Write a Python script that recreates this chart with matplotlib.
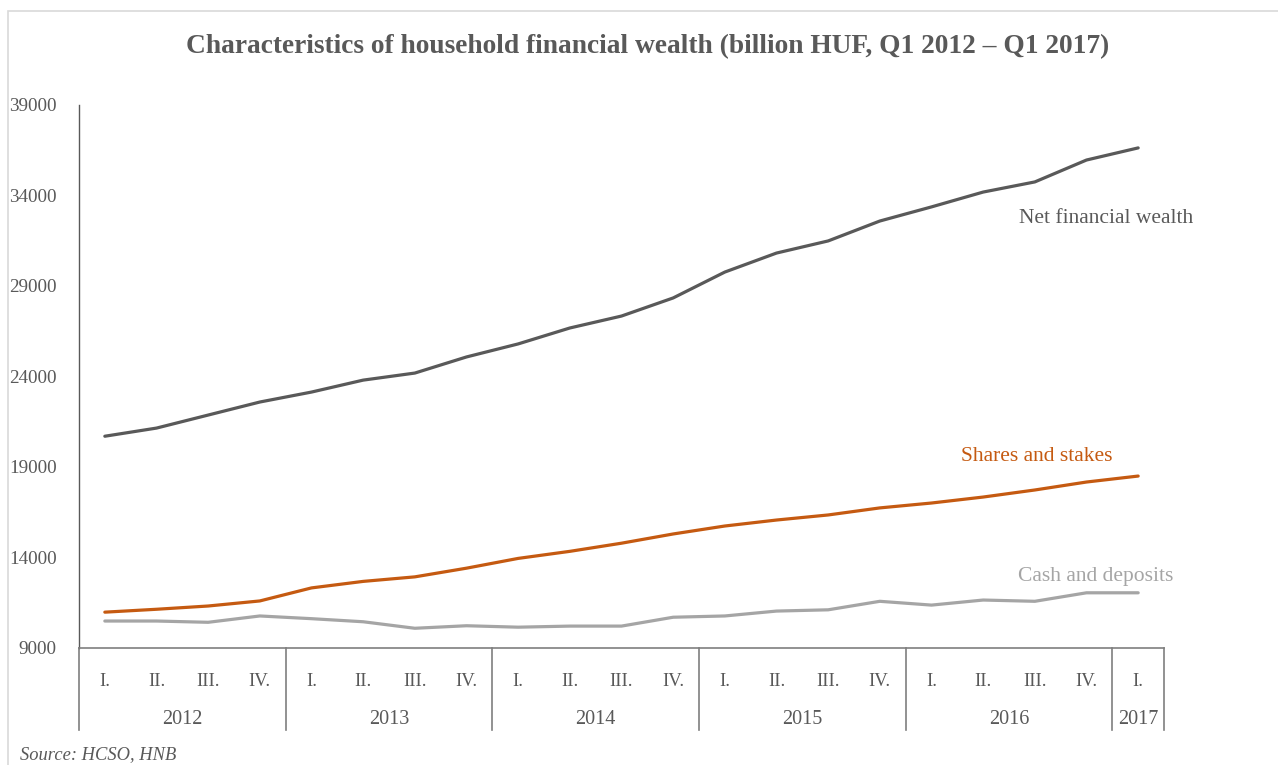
import matplotlib.pyplot as plt
import matplotlib.transforms as mtransforms
from matplotlib.patches import Rectangle

# Quarterly household financial wealth, billion HUF
years = ["2012", "2013", "2014", "2015", "2016", "2017"]
quarters_per_year = [4, 4, 4, 4, 4, 1]
quarter_names = ["I.", "II.", "III.", "IV."]

net_wealth = [20700, 21150, 21870, 22590, 23140, 23800, 24190, 25080, 25800, 26680,
              27340, 28340, 29770, 30820, 31490, 32590, 33370, 34190, 34750, 35960, 36630]
shares = [10980, 11140, 11320, 11600, 12320, 12680, 12930, 13410, 13950, 14340,
          14790, 15300, 15740, 16070, 16350, 16740, 17010, 17340, 17730, 18170, 18500]
cash = [10490, 10490, 10420, 10770, 10620, 10450, 10090, 10230, 10150, 10210,
        10210, 10700, 10770, 11040, 11110, 11580, 11370, 11650, 11580, 12050, 12050]

DARK = "#595959"
ORANGE = "#C55A11"
LIGHT = "#A5A5A5"

plt.rcParams['font.family'] = ['Liberation Serif', 'DejaVu Serif']

W, H = 1278, 765
fig = plt.figure(figsize=(W / 100, H / 100), dpi=100, facecolor="white")

# outer chart frame (only left and top edges are in view)
fig.patches.append(Rectangle((8 / W, -0.1), 1.2, 1.1 - 11 / H, transform=fig.transFigure,
                             fill=False, edgecolor="#D9D9D9", linewidth=1.2))

left, right, top, bottom = 79, 1164, 105, 648
ax = fig.add_axes([left / W, 1 - bottom / H, (right - left) / W, (bottom - top) / H])

x = list(range(len(net_wealth)))
ax.plot(x, net_wealth, color=DARK, lw=2.3, solid_capstyle="round")
ax.plot(x, shares, color=ORANGE, lw=2.3, solid_capstyle="round")
ax.plot(x, cash, color=LIGHT, lw=2.3, solid_capstyle="round")

ax.set_xlim(-0.5, len(x) - 0.5)
ax.set_ylim(9000, 39000)
ax.set_yticks(range(9000, 39001, 5000))
ax.tick_params(axis="y", length=0, pad=16, labelsize=13.8, labelcolor=DARK)
ax.set_xticks([])

for s in ["top", "right"]:
    ax.spines[s].set_visible(False)
ax.spines["left"].set_color(DARK)
ax.spines["bottom"].set_color("#7F7F7F")
ax.spines["left"].set_linewidth(1.0)
ax.spines["bottom"].set_linewidth(1.2)

# two-level category axis: quarters over years, with group dividers
trans = mtransforms.blended_transform_factory(ax.transData, ax.transAxes)
span = bottom - top
div_bottom = -(730 - bottom) / span
q_y = -(681 - bottom) / span
yr_y = -(719 - bottom) / span

pos = 0
edges = [-0.5]
for yr, n in zip(years, quarters_per_year):
    for q in range(n):
        ax.text(pos + q, q_y, quarter_names[q], transform=trans, ha="center", va="center",
                fontsize=13.5, color=DARK)
    ax.text(pos + (n - 1) / 2, yr_y, yr, transform=trans, ha="center", va="center",
            fontsize=14.5, color=DARK)
    pos += n
    edges.append(pos - 0.5)

for e in edges:
    ax.plot([e, e], [0, div_bottom], transform=trans, color="#7F7F7F", lw=1.2, clip_on=False)

# series labels
ax.text(19.38, 32750, "Net financial wealth", ha="center", va="center", fontsize=15.5, color=DARK)
ax.text(18.04, 19600, "Shares and stakes", ha="center", va="center", fontsize=15.5, color=ORANGE)
ax.text(19.17, 12950, "Cash and deposits", ha="center", va="center", fontsize=15.5, color=LIGHT)

fig.text(648 / W, 1 - 44 / H,
         "Characteristics of household financial wealth (billion HUF, Q1 2012 \u2013 Q1 2017)",
         ha="center", va="center_baseline", fontsize=19.7, fontweight="bold", color=DARK)
fig.text(20 / W, 1 - 755 / H, "Source: HCSO, HNB", ha="left", va="center",
         fontsize=13.3, style="italic", color=DARK)

plt.savefig("out.png", dpi=100, facecolor=fig.get_facecolor())
